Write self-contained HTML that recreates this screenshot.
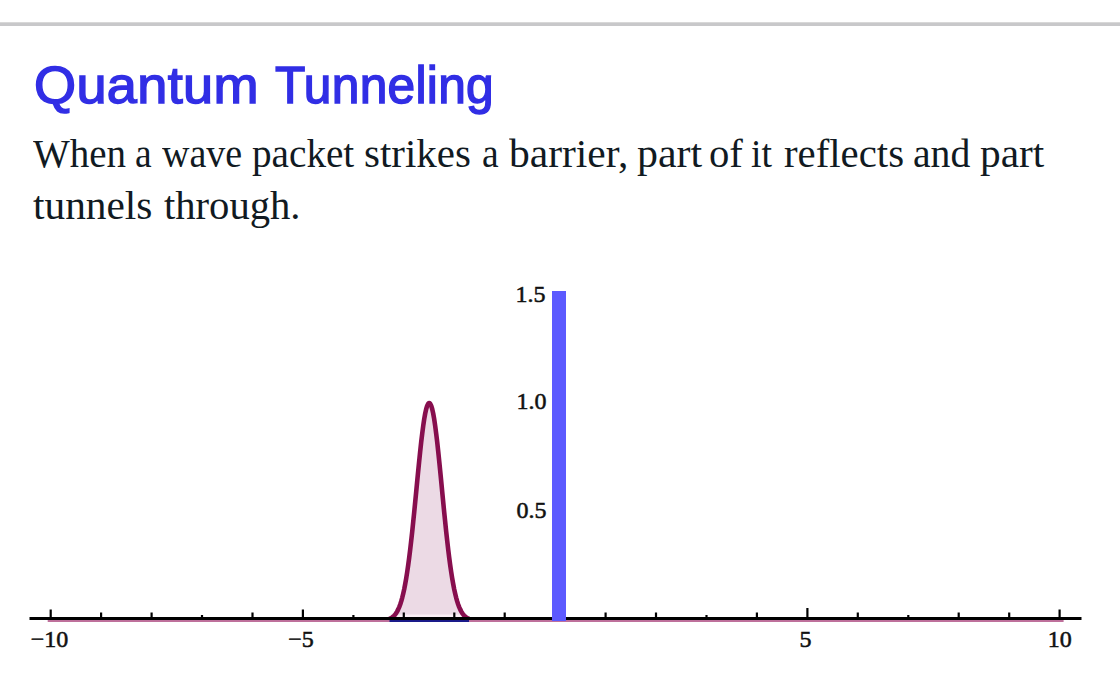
<!DOCTYPE html>
<html>
<head>
<meta charset="utf-8">
<style>
html,body{margin:0;padding:0;background:#fff;width:1120px;height:700px;overflow:hidden;position:relative}
.rule{position:absolute;left:0;top:22px;width:1120px;height:4px;background:#c8c8ca;border-top:0}
.rule:before{content:"";position:absolute;left:0;top:0;width:100%;height:1px;background:#d8d8d8}
h1{position:absolute;left:0;width:1120px;height:60px;top:0;margin:0;font-family:"Liberation Sans",sans-serif;font-weight:normal;font-size:52px;line-height:52px;color:#312ee5;white-space:nowrap;letter-spacing:0.32px;-webkit-text-stroke:1.5px #312ee5}
p{position:absolute;left:0;top:0;margin:0;width:1120px;height:240px;font-family:"Liberation Serif",serif;font-size:40px;line-height:52px;color:#111a22;white-space:nowrap}
.w{position:absolute;transform-origin:0 0}
.tw{position:absolute;transform-origin:0 0}
svg{position:absolute;left:0;top:0}
.lbl{font-family:"Liberation Serif",serif;font-size:24px;fill:#111;stroke:#111;stroke-width:0.55px}
</style>
</head>
<body>
<div class="rule"></div>
<h1 id="t" style="top:59px"><span class="tw" style="left:34.42px;top:0px;transform:scaleX(1.0403)">Quantum</span><span class="tw" style="left:274.60px;top:0px;transform:scaleX(0.9549)">Tunneling</span></h1>
<p id="p"><span class="w" style="left:33.00px;top:128px;transform:scaleX(0.9747)">When</span><span class="w" style="left:135.06px;top:128px;transform:scaleX(0.9375)">a</span><span class="w" style="left:161.60px;top:128px;transform:scaleX(0.9506)">wave</span><span class="w" style="left:251.82px;top:128px;transform:scaleX(0.9796)">packet</span><span class="w" style="left:364.45px;top:128px;transform:scaleX(1.0228)">strikes</span><span class="w" style="left:481.56px;top:128px;transform:scaleX(0.9375)">a</span><span class="w" style="left:509.00px;top:128px;transform:scaleX(1.0372)">barrier,</span><span class="w" style="left:636.75px;top:128px;transform:scaleX(1.0475)">part</span><span class="w" style="left:709.47px;top:128px;transform:scaleX(1.0161)">of</span><span class="w" style="left:751.26px;top:128px;transform:scaleX(0.9429)">it</span><span class="w" style="left:783.68px;top:128px;transform:scaleX(1.0200)">reflects</span><span class="w" style="left:912.71px;top:128px;transform:scaleX(0.9911)">and</span><span class="w" style="left:980.27px;top:128px;transform:scaleX(1.0328)">part</span><span class="w" style="left:33.47px;top:180px;transform:scaleX(1.0332)">tunnels</span><span class="w" style="left:163.98px;top:180px;transform:scaleX(1.0153)">through.</span></p>
<svg width="1120" height="700" viewBox="0 0 1120 700">
  <defs><clipPath id="fc"><rect x="0" y="0" width="1120" height="614.5"/></clipPath></defs>
  <path d="M383.2,620.2 L384.2,620.1 L385.2,620.0 L386.2,619.8 L387.2,619.6 L388.2,619.3 L389.2,619.0 L390.2,618.6 L391.2,618.0 L392.2,617.4 L393.2,616.6 L394.2,615.6 L395.2,614.5 L396.2,613.1 L397.2,611.4 L398.2,609.4 L399.2,607.1 L400.2,604.5 L401.2,601.4 L402.2,597.8 L403.2,593.7 L404.2,589.2 L405.2,584.0 L406.2,578.3 L407.2,572.0 L408.2,565.1 L409.2,557.6 L410.2,549.5 L411.2,540.8 L412.2,531.7 L413.2,522.1 L414.2,512.2 L415.2,502.0 L416.2,491.7 L417.2,481.3 L418.2,471.0 L419.2,461.0 L420.2,451.3 L421.2,442.1 L422.2,433.7 L423.2,426.0 L424.2,419.2 L425.2,413.5 L426.2,409.0 L427.2,405.7 L428.2,403.7 L429.2,403.0 L430.2,403.7 L431.2,405.7 L432.2,409.0 L433.2,413.5 L434.2,419.2 L435.2,426.0 L436.2,433.7 L437.2,442.1 L438.2,451.3 L439.2,461.0 L440.2,471.0 L441.2,481.3 L442.2,491.7 L443.2,502.0 L444.2,512.2 L445.2,522.1 L446.2,531.7 L447.2,540.8 L448.2,549.5 L449.2,557.6 L450.2,565.1 L451.2,572.0 L452.2,578.3 L453.2,584.0 L454.2,589.2 L455.2,593.7 L456.2,597.8 L457.2,601.4 L458.2,604.5 L459.2,607.1 L460.2,609.4 L461.2,611.4 L462.2,613.1 L463.2,614.5 L464.2,615.6 L465.2,616.6 L466.2,617.4 L467.2,618.0 L468.2,618.6 L469.2,619.0 L470.2,619.3 L471.2,619.6 L472.2,619.8 L473.2,620.0 L474.2,620.1 L475.2,620.2 Z" fill="#fbeff5" stroke="none"/>
  <path clip-path="url(#fc)" d="M383.2,620.2 L384.2,620.1 L385.2,620.0 L386.2,619.8 L387.2,619.6 L388.2,619.3 L389.2,619.0 L390.2,618.6 L391.2,618.0 L392.2,617.4 L393.2,616.6 L394.2,615.6 L395.2,614.5 L396.2,613.1 L397.2,611.4 L398.2,609.4 L399.2,607.1 L400.2,604.5 L401.2,601.4 L402.2,597.8 L403.2,593.7 L404.2,589.2 L405.2,584.0 L406.2,578.3 L407.2,572.0 L408.2,565.1 L409.2,557.6 L410.2,549.5 L411.2,540.8 L412.2,531.7 L413.2,522.1 L414.2,512.2 L415.2,502.0 L416.2,491.7 L417.2,481.3 L418.2,471.0 L419.2,461.0 L420.2,451.3 L421.2,442.1 L422.2,433.7 L423.2,426.0 L424.2,419.2 L425.2,413.5 L426.2,409.0 L427.2,405.7 L428.2,403.7 L429.2,403.0 L430.2,403.7 L431.2,405.7 L432.2,409.0 L433.2,413.5 L434.2,419.2 L435.2,426.0 L436.2,433.7 L437.2,442.1 L438.2,451.3 L439.2,461.0 L440.2,471.0 L441.2,481.3 L442.2,491.7 L443.2,502.0 L444.2,512.2 L445.2,522.1 L446.2,531.7 L447.2,540.8 L448.2,549.5 L449.2,557.6 L450.2,565.1 L451.2,572.0 L452.2,578.3 L453.2,584.0 L454.2,589.2 L455.2,593.7 L456.2,597.8 L457.2,601.4 L458.2,604.5 L459.2,607.1 L460.2,609.4 L461.2,611.4 L462.2,613.1 L463.2,614.5 L464.2,615.6 L465.2,616.6 L466.2,617.4 L467.2,618.0 L468.2,618.6 L469.2,619.0 L470.2,619.3 L471.2,619.6 L472.2,619.8 L473.2,620.0 L474.2,620.1 L475.2,620.2 Z" fill="#ecdae5" stroke="none"/>
  <defs><clipPath id="cc"><rect x="0" y="0" width="1120" height="619.5"/></clipPath></defs>
  <polyline clip-path="url(#cc)" points="383.2,620.2 384.2,620.1 385.2,620.0 386.2,619.8 387.2,619.6 388.2,619.3 389.2,619.0 390.2,618.6 391.2,618.0 392.2,617.4 393.2,616.6 394.2,615.6 395.2,614.5 396.2,613.1 397.2,611.4 398.2,609.4 399.2,607.1 400.2,604.5 401.2,601.4 402.2,597.8 403.2,593.7 404.2,589.2 405.2,584.0 406.2,578.3 407.2,572.0 408.2,565.1 409.2,557.6 410.2,549.5 411.2,540.8 412.2,531.7 413.2,522.1 414.2,512.2 415.2,502.0 416.2,491.7 417.2,481.3 418.2,471.0 419.2,461.0 420.2,451.3 421.2,442.1 422.2,433.7 423.2,426.0 424.2,419.2 425.2,413.5 426.2,409.0 427.2,405.7 428.2,403.7 429.2,403.0 430.2,403.7 431.2,405.7 432.2,409.0 433.2,413.5 434.2,419.2 435.2,426.0 436.2,433.7 437.2,442.1 438.2,451.3 439.2,461.0 440.2,471.0 441.2,481.3 442.2,491.7 443.2,502.0 444.2,512.2 445.2,522.1 446.2,531.7 447.2,540.8 448.2,549.5 449.2,557.6 450.2,565.1 451.2,572.0 452.2,578.3 453.2,584.0 454.2,589.2 455.2,593.7 456.2,597.8 457.2,601.4 458.2,604.5 459.2,607.1 460.2,609.4 461.2,611.4 462.2,613.1 463.2,614.5 464.2,615.6 465.2,616.6 466.2,617.4 467.2,618.0 468.2,618.6 469.2,619.0 470.2,619.3 471.2,619.6 472.2,619.8 473.2,620.0 474.2,620.1 475.2,620.2" fill="none" stroke="#870e4e" stroke-width="4.6" stroke-linejoin="round" stroke-linecap="round"/>
  <line x1="47.7" y1="621" x2="1063.6" y2="621" stroke="#a8407a" stroke-width="1.6"/>
  <line x1="389.5" y1="621" x2="469" y2="621" stroke="#1a1a8a" stroke-width="2"/>
  <line x1="29.5" y1="618.5" x2="1081.5" y2="618.5" stroke="#000" stroke-width="3"/>
  <g stroke="#000" stroke-width="2.2">
    <line x1="50.7" y1="609.5" x2="50.7" y2="618.5" />
    <line x1="101.1" y1="612.5" x2="101.1" y2="618.5" />
    <line x1="151.6" y1="612.5" x2="151.6" y2="618.5" />
    <line x1="202.0" y1="615.0" x2="202.0" y2="618.5" />
    <line x1="252.5" y1="612.5" x2="252.5" y2="618.5" />
    <line x1="302.9" y1="609.5" x2="302.9" y2="618.5" />
    <line x1="353.4" y1="615.0" x2="353.4" y2="618.5" />
    <line x1="403.8" y1="612.5" x2="403.8" y2="618.5" />
    <line x1="454.3" y1="612.5" x2="454.3" y2="618.5" />
    <line x1="504.7" y1="612.5" x2="504.7" y2="618.5" />
    <line x1="605.6" y1="612.5" x2="605.6" y2="618.5" />
    <line x1="656.0" y1="612.5" x2="656.0" y2="618.5" />
    <line x1="706.5" y1="615.0" x2="706.5" y2="618.5" />
    <line x1="756.9" y1="612.5" x2="756.9" y2="618.5" />
    <line x1="807.4" y1="608.0" x2="807.4" y2="618.5" />
    <line x1="857.8" y1="612.5" x2="857.8" y2="618.5" />
    <line x1="908.3" y1="615.0" x2="908.3" y2="618.5" />
    <line x1="958.7" y1="612.5" x2="958.7" y2="618.5" />
    <line x1="1009.2" y1="612.5" x2="1009.2" y2="618.5" />
    <line x1="1059.6" y1="609.5" x2="1059.6" y2="618.5" />
  </g>
  <rect x="552" y="291" width="14" height="330" fill="#5c5aff"/>
  <g class="lbl">
    <text x="545.5" y="302" text-anchor="end">1.5</text>
    <text x="546.5" y="409" text-anchor="end">1.0</text>
    <text x="546.5" y="518" text-anchor="end">0.5</text>
    <text x="49.5" y="647" text-anchor="middle">&#8722;10</text>
    <text x="301" y="647" text-anchor="middle">&#8722;5</text>
    <text x="805.6" y="647" text-anchor="middle">5</text>
    <text x="1059.7" y="647" text-anchor="middle">10</text>
  </g>
</svg>
</body>
</html>
